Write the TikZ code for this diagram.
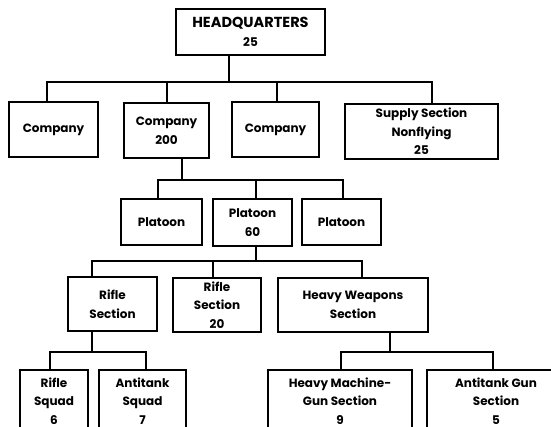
\documentclass[tikz,border=0pt]{standalone}
\usepackage{fontspec}
\setmainfont{Poppins}
\newcommand\orgbox[6]{\node[box, minimum width=#4pt, minimum height=#5pt] (#1) at (#2,#3) {#6};}
\begin{document}
\begin{tikzpicture}[x=1pt,y=-1pt,line width=1.6pt,
  box/.style={draw, line width=1.6pt, align=center, inner sep=0pt,
    font=\fontsize{12}{18.5}\selectfont\bfseries}]
\useasboundingbox (0,0) rectangle (551,427);
\fill[white] (0,0) rectangle (551,427);
\clip (0,0) rectangle (551,427);
% bus coordinates
\coordinate (b1) at (0,82);
\coordinate (b2) at (0,180);
\coordinate (b3) at (0,261);
\coordinate (b4) at (0,352);
% boxes
\orgbox{hq}{250.5}{32}{149}{46}{\fontsize{14.5}{20}\selectfont HEADQUARTERS\\25}
\orgbox{c1}{53.5}{129.5}{89}{55}{Company}
\orgbox{c2}{166.5}{130.5}{85}{55}{Company\\200}
\orgbox{c3}{275.5}{129.5}{87}{55}{Company}
\orgbox{sup}{421.5}{131.5}{153}{55}{Supply Section\\Nonflying\\25}
\orgbox{p1}{161.5}{222}{81}{46}{Platoon}
\orgbox{p2}{252.5}{222.5}{79}{47}{Platoon\\60}
\orgbox{p3}{341.5}{222}{79}{46}{Platoon}
\orgbox{rs}{112.5}{304}{89}{54}{Rifle\\Section}
\orgbox{rs2}{217}{305}{88}{54}{Rifle\\Section\\20}
\orgbox{hw}{353}{305}{150}{54}{Heavy Weapons\\Section}
\orgbox{sq1}{54}{401}{68}{62}{Rifle\\Squad\\6}
\orgbox{sq2}{142.5}{401}{87}{62}{Antitank\\Squad\\7}
\orgbox{hmg}{340}{401}{144}{62}{Heavy Machine-\\Gun Section\\9}
\orgbox{agn}{496}{401}{138}{62}{Antitank Gun\\Section\\5}
% HQ tree
\draw ([xshift=-21.5pt]hq.south) -- ([xshift=-21.5pt]hq.south |- b1);
\draw ([xshift=-6.5pt]c1.north) |- ([xshift=10.5pt]sup.north |- b1) -- ([xshift=10.5pt]sup.north);
\draw ([xshift=0.5pt]c2.north) -- ([xshift=0.5pt]c2.north |- b1);
\draw ([xshift=1.5pt]c3.north) -- ([xshift=1.5pt]c3.north |- b1);
% Company tree
\draw ([xshift=15.5pt]c2.south) -- ([xshift=15.5pt]c2.south |- b2);
\draw ([xshift=-3.5pt]p1.north) |- ([xshift=1.5pt]p3.north |- b2) -- ([xshift=1.5pt]p3.north);
\draw ([xshift=3.5pt]p2.north) -- ([xshift=3.5pt]p2.north |- b2);
% Platoon tree
\draw ([xshift=3.5pt]p2.south) -- ([xshift=3.5pt]p2.south |- b3);
\draw ([xshift=-20.5pt]rs.north) |- ([xshift=9pt]hw.north |- b3) -- ([xshift=9pt]hw.north);
\draw ([xshift=-4pt]rs2.north) -- ([xshift=-4pt]rs2.north |- b3);
% Rifle section tree
\draw ([xshift=-20.5pt]rs.south) -- ([xshift=-20.5pt]rs.south |- b4);
\draw ([xshift=-4pt]sq1.north) |- ([xshift=3.5pt]sq2.north |- b4) -- ([xshift=3.5pt]sq2.north);
% Heavy weapons tree
\draw ([xshift=37pt]hw.south) -- ([xshift=37pt]hw.south |- b4);
\draw ([xshift=1pt]hmg.north) |- ([xshift=-3pt]agn.north |- b4) -- ([xshift=-3pt]agn.north);
\end{tikzpicture}
\end{document}
